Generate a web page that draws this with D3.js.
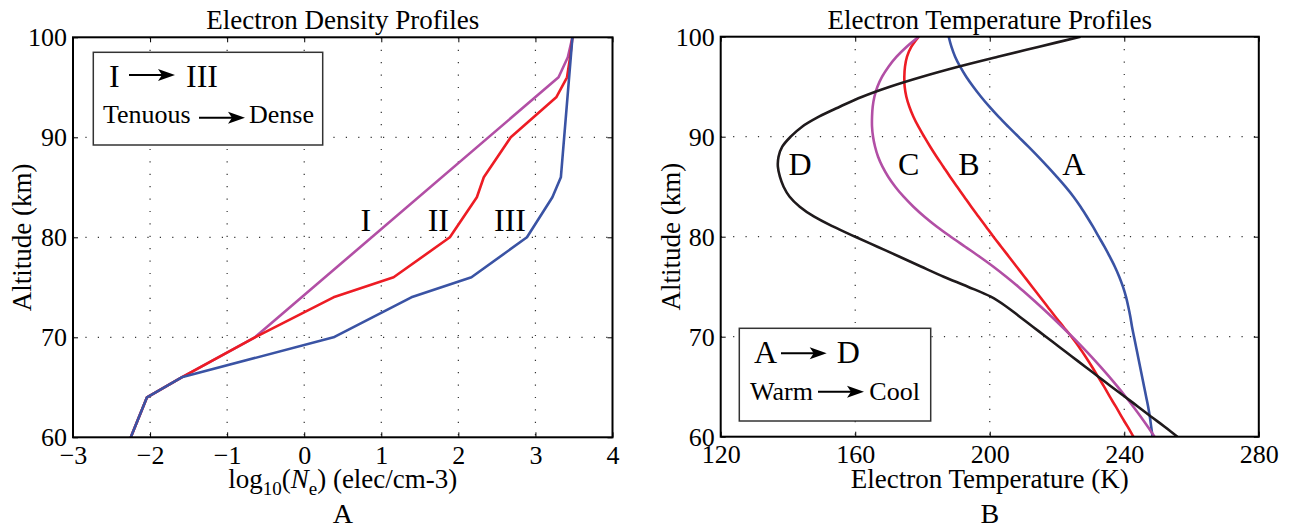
<!DOCTYPE html>
<html>
<head>
<meta charset="utf-8">
<script src="https://cdn.jsdelivr.net/npm/d3@7"></script>
<style>
body { margin: 0; background: #fff; }
svg text { font-family: "Liberation Serif", "Times New Roman", serif; fill: #000; }
</style>
</head>
<body>
<svg id="fig" width="1292" height="529" font-family="Liberation Serif"></svg>
<script>
// ---- panel A : electron density, log10(Ne) vs altitude ----
var densAltI   = [60, 64, 66, 70, 96, 98, 100];
var densNeI    = [-2.25, -2.04, -1.59, -0.64, 3.30, 3.42, 3.48];
var densAltII  = [60, 64, 66, 70, 74, 76, 80, 84, 86, 90, 94, 96, 98, 100];
var densNeII   = [-2.25, -2.04, -1.59, -0.64, 0.38, 1.16, 1.89, 2.24, 2.33, 2.68, 3.27, 3.41, 3.45, 3.48];
var densAltIII = [60, 64, 66, 70, 74, 76, 80, 84, 86, 100];
var densNeIII  = [-2.25, -2.04, -1.59, 0.38, 1.39, 2.17, 2.89, 3.22, 3.33, 3.48];

var densTicksX = [-3, -2, -1, 0, 1, 2, 3, 4];
var altTicks = [60, 70, 80, 90, 100];

var densLabels = [ { t: 'I', x: 0.8, alt: 80.6 }, { t: 'II', x: 1.74, alt: 80.6 }, { t: 'III', x: 2.67, alt: 80.6 } ];

// ---- panel B : electron temperature vs altitude ----
var tempAlt = [60, 61, 62, 63, 64, 65, 66, 67, 68, 69, 70, 71, 72, 73, 74, 75, 76, 77, 78, 79, 80,
               81, 82, 83, 84, 85, 86, 87, 88, 89, 90, 91, 92, 93, 94, 95, 96, 97, 98, 99, 100];
var tempA = [248.4, 248.0, 247.6, 247.1, 246.5, 245.9, 245.3, 244.7, 244.1, 243.5, 242.9, 242.3, 241.8, 241.2, 240.5,
             239.6, 238.5, 237.2, 235.7, 234.1, 232.4, 230.7, 228.9, 227.0, 224.9, 222.5, 219.9, 217.2, 214.4, 211.5,
             208.5, 205.5, 202.6, 199.9, 197.4, 195.1, 193.0, 191.2, 189.7, 188.6, 187.8];
var tempB = [242.7, 241.0, 239.2, 237.5, 235.7, 234.0, 232.2, 230.4, 228.5, 226.5, 224.3, 221.9, 219.5, 217.2, 214.9,
             212.6, 210.3, 208.0, 205.7, 203.4, 201.1, 198.9, 196.7, 194.5, 192.4, 190.3, 188.2, 186.2, 184.2, 182.3,
             180.5, 178.8, 177.3, 176.1, 175.2, 174.7, 174.6, 174.8, 175.4, 176.7, 178.9];
var tempC = [249.0, 247.0, 244.9, 242.7, 240.4, 238.0, 235.5, 232.9, 230.2, 227.4, 224.5, 221.5, 218.4, 215.2, 211.9,
             208.5, 204.9, 201.1, 197.0, 192.7, 188.4, 184.3, 180.6, 177.3, 174.4, 171.9, 169.8, 168.1, 166.8, 165.9,
             165.3, 165.0, 165.0, 165.2, 165.7, 166.6, 168.0, 169.9, 172.3, 175.3, 178.9];
var tempD = [255.8, 252.0, 248.0, 244.1, 240.2, 236.2, 232.3, 228.4, 224.5, 220.6, 216.7, 212.8, 208.9, 205.0, 200.3,
             193.5, 186.3, 179.7, 173.2, 166.6, 160.0, 153.5, 147.8, 143.5, 140.5, 138.7, 137.6, 137.0, 137.2, 138.3,
             140.8, 144.2, 149.2, 155.4, 162.1, 170.3, 179.9, 190.6, 202.4, 214.7, 227.0];

var tempTicksX = [120, 160, 200, 240, 280];
var tempLabels = [ { t: 'D', x: 143.6, alt: 86.2 }, { t: 'C', x: 175.9, alt: 86.2 },
                   { t: 'B', x: 193.8, alt: 86.2 }, { t: 'A', x: 225, alt: 86.2 } ];

var colors = { blue: '#3a53a4', red: '#ed1c24', purple: '#b24fa5', black: '#1f1a1c' };
var serif = '"Liberation Serif", "Times New Roman", serif';

var svg = d3.select( '#fig' );

function zip( xs, ys ) {
    return xs.map( function( v, i ) { return [ v, ys[ i ] ]; } );
}

function styleAxis( g ) {
    g.select( '.domain' ).remove();
    g.attr( 'font-size', 26 ).attr( 'font-family', serif );
    g.selectAll( '.tick line' ).attr( 'stroke', '#000' ).attr( 'stroke-width', 1 );
}

// Draws one framed panel and returns its scales.
function panel( cfg ) {
    var g = svg.append( 'g' ).attr( 'font-family', serif ),
        x = d3.scaleLinear().domain( cfg.xDomain ).range( [ cfg.left, cfg.right ] ),
        y = d3.scaleLinear().domain( [ 60, 100 ] ).range( [ cfg.bottom, cfg.top ] ),
        cx = ( cfg.left + cfg.right ) / 2,
        fmt = d3.format( 'd' );

    // dotted grid
    g.selectAll( '.vg' ).data( cfg.xTicks.slice( 1, -1 ) ).enter().append( 'line' )
        .attr( 'x1', x ).attr( 'x2', x ).attr( 'y1', cfg.top ).attr( 'y2', cfg.bottom )
        .attr( 'stroke', '#333' ).attr( 'stroke-width', 1.2 ).attr( 'stroke-dasharray', '1.2,11.2' );
    g.selectAll( '.hg' ).data( altTicks.slice( 1, -1 ) ).enter().append( 'line' )
        .attr( 'y1', y ).attr( 'y2', y ).attr( 'x1', cfg.left ).attr( 'x2', cfg.right )
        .attr( 'stroke', '#333' ).attr( 'stroke-width', 1.2 ).attr( 'stroke-dasharray', '1.2,11.2' );

    // inward ticks on all four sides
    g.append( 'g' ).attr( 'transform', 'translate(0,' + cfg.bottom + ')' )
        .call( d3.axisBottom( x ).tickValues( cfg.xTicks ).tickFormat( fmt ).tickSize( -5 ).tickPadding( 8 ) )
        .call( styleAxis );
    g.append( 'g' ).attr( 'transform', 'translate(0,' + cfg.top + ')' )
        .call( d3.axisTop( x ).tickValues( cfg.xTicks ).tickSize( -5 ).tickFormat( '' ) )
        .call( styleAxis );
    g.append( 'g' ).attr( 'transform', 'translate(' + cfg.left + ',0)' )
        .call( d3.axisLeft( y ).tickValues( altTicks ).tickFormat( fmt ).tickSize( -5 ).tickPadding( 6 ) )
        .call( styleAxis );
    g.append( 'g' ).attr( 'transform', 'translate(' + cfg.right + ',0)' )
        .call( d3.axisRight( y ).tickValues( altTicks ).tickSize( -5 ).tickFormat( '' ) )
        .call( styleAxis );

    var clipId = 'clip' + cfg.id;
    svg.append( 'clipPath' ).attr( 'id', clipId ).append( 'rect' )
        .attr( 'x', cfg.left ).attr( 'y', cfg.top )
        .attr( 'width', cfg.right - cfg.left ).attr( 'height', cfg.bottom - cfg.top );

    var line = d3.line()
        .x( function( d ) { return x( d[ 0 ] ); } )
        .y( function( d ) { return y( d[ 1 ] ); } )
        .curve( cfg.curve );

    var lines = g.append( 'g' ).attr( 'clip-path', 'url(#' + clipId + ')' );
    cfg.series.forEach( function( s ) {
        lines.append( 'path' ).datum( s.pts )
            .attr( 'd', line ).attr( 'fill', 'none' )
            .attr( 'stroke', s.color ).attr( 'stroke-width', 2.6 )
            .attr( 'stroke-linejoin', 'round' );
    } );

    // frame
    g.append( 'rect' )
        .attr( 'x', cfg.left ).attr( 'y', cfg.top )
        .attr( 'width', cfg.right - cfg.left ).attr( 'height', cfg.bottom - cfg.top )
        .attr( 'fill', 'none' ).attr( 'stroke', '#000' ).attr( 'stroke-width', 2 );

    // curve labels
    g.selectAll( '.lab' ).data( cfg.labels ).enter().append( 'text' )
        .attr( 'x', function( d ) { return x( d.x ); } )
        .attr( 'y', function( d ) { return y( d.alt ); } )
        .attr( 'text-anchor', 'middle' ).attr( 'font-size', 32 )
        .text( function( d ) { return d.t; } );

    g.append( 'text' ).attr( 'x', cx ).attr( 'y', 29 )
        .attr( 'text-anchor', 'middle' ).attr( 'font-size', 27 ).text( cfg.title );
    g.append( 'text' ).attr( 'transform', 'translate(' + cfg.ylabX + ',' + ( cfg.top + cfg.bottom ) / 2 + ') rotate(-90)' )
        .attr( 'text-anchor', 'middle' ).attr( 'font-size', 27 ).text( 'Altitude (km)' );
    g.append( 'text' ).attr( 'x', cx ).attr( 'y', 523 )
        .attr( 'text-anchor', 'middle' ).attr( 'font-size', 28 ).text( cfg.letter );

    return { g: g, x: x, y: y, cx: cx };
}

// legend box with two "from -> to" rows
function legend( g, box, rows ) {
    g.append( 'rect' ).attr( 'x', box[ 0 ] ).attr( 'y', box[ 1 ] )
        .attr( 'width', box[ 2 ] ).attr( 'height', box[ 3 ] )
        .attr( 'fill', '#fff' ).attr( 'stroke', '#333' ).attr( 'stroke-width', 1.5 );

    rows.forEach( function( r ) {
        g.append( 'text' ).attr( 'x', r.x0 ).attr( 'y', r.base )
            .attr( 'font-size', r.size ).text( r.from );
        g.append( 'text' ).attr( 'x', r.x1 ).attr( 'y', r.base )
            .attr( 'font-size', r.size ).text( r.to );
        g.append( 'line' ).attr( 'x1', r.a0 ).attr( 'x2', r.a1 - 12 )
            .attr( 'y1', r.ay ).attr( 'y2', r.ay )
            .attr( 'stroke', '#000' ).attr( 'stroke-width', 2 );
        g.append( 'path' )
            .attr( 'd', 'M' + ( r.a1 - 17 ) + ',' + ( r.ay - 6 ) + 'L' + r.a1 + ',' + r.ay +
                        'L' + ( r.a1 - 17 ) + ',' + ( r.ay + 6 ) + 'L' + ( r.a1 - 13 ) + ',' + r.ay + 'Z' )
            .attr( 'fill', '#000' );
    } );
}

var left = panel( {
    id: 'A', xDomain: [ -3, 4 ], xTicks: densTicksX,
    left: 73, right: 612.5, top: 37.3, bottom: 437.3,
    curve: d3.curveLinear,
    series: [
        { color: colors.purple, pts: zip( densNeI, densAltI ) },
        { color: colors.red, pts: zip( densNeII, densAltII ) },
        { color: colors.blue, pts: zip( densNeIII, densAltIII ) }
    ],
    labels: densLabels, title: 'Electron Density Profiles', letter: 'A', ylabX: 31
} );

var right = panel( {
    id: 'B', xDomain: [ 120, 280 ], xTicks: tempTicksX,
    left: 720.7, right: 1258.8, top: 36.7, bottom: 436.7,
    curve: d3.curveCatmullRom,
    series: [
        { color: colors.blue, pts: zip( tempA, tempAlt ) },
        { color: colors.red, pts: zip( tempB, tempAlt ) },
        { color: colors.purple, pts: zip( tempC, tempAlt ) },
        { color: colors.black, pts: zip( tempD, tempAlt ) }
    ],
    labels: tempLabels, title: 'Electron Temperature Profiles', letter: 'B', ylabX: 680
} );

// x axis titles
var xl = left.g.append( 'text' ).attr( 'x', left.cx ).attr( 'y', 488 )
    .attr( 'text-anchor', 'middle' ).attr( 'font-size', 27 );
xl.append( 'tspan' ).text( 'log' );
xl.append( 'tspan' ).attr( 'dy', 7 ).attr( 'font-size', 19 ).text( '10' );
xl.append( 'tspan' ).attr( 'dy', -7 ).text( '(' );
xl.append( 'tspan' ).attr( 'font-style', 'italic' ).text( 'N' );
xl.append( 'tspan' ).attr( 'dy', 7 ).attr( 'font-size', 19 ).text( 'e' );
xl.append( 'tspan' ).attr( 'dy', -7 ).text( ') (elec/cm-3)' );

right.g.append( 'text' ).attr( 'x', right.cx ).attr( 'y', 488 )
    .attr( 'text-anchor', 'middle' ).attr( 'font-size', 27 ).text( 'Electron Temperature (K)' );

legend( left.g, [ 93.3, 52.3, 229.4, 92.7 ], [
    { from: 'I', to: 'III', size: 32, x0: 109, x1: 186, base: 86.7, a0: 129, a1: 175, ay: 75 },
    { from: 'Tenuous', to: 'Dense', size: 26, x0: 103, x1: 249, base: 122.7, a0: 199, a1: 245, ay: 117.7 }
] );

legend( right.g, [ 739.3, 328.3, 191.4, 92.7 ], [
    { from: 'A', to: 'D', size: 32, x0: 754, x1: 836.7, base: 363.3, a0: 781, a1: 826.7, ay: 353.3 },
    { from: 'Warm', to: 'Cool', size: 26, x0: 750, x1: 869.3, base: 400, a0: 818, a1: 864, ay: 391.7 }
] );
</script>
</body>
</html>
